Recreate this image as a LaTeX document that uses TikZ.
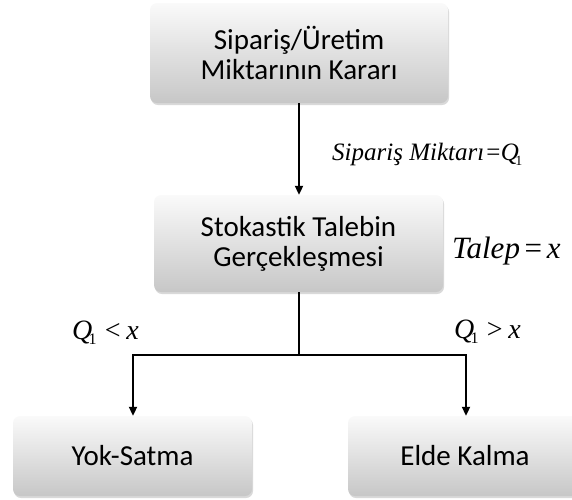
\documentclass[tikz,border=0pt]{standalone}
\usepackage{fontspec}
\setmainfont{Carlito}
\newfontfamily\tms{Liberation Serif}
\usetikzlibrary{arrows.meta,shadows}
\newcommand{\subone}[1]{\kern-0.14em\raisebox{-0.2em}{\upshape\fontsize{#1}{#1}\selectfont 1}}
\begin{document}
\begin{tikzpicture}[x=1pt,y=-1pt,
  boxstyle/.style={rounded corners=7pt, top color=black!2, bottom color=black!22,
    draw=none, align=center, inner sep=0pt,
    drop shadow={opacity=0.3, shadow xshift=1pt, shadow yshift=-2pt},
    font=\fontsize{29}{30}\selectfont},
  conn/.style={line width=2pt, -{Triangle[length=9pt,width=8pt]}},
  plain/.style={line width=2.4pt},
  lbl/.style={inner sep=0pt, anchor=base west, font=\tms}
]
\useasboundingbox (0,0) rectangle (572,499);
\node[boxstyle, minimum width=298pt, minimum height=100pt] (top) at (299,53) {Sipariş/Üretim\\Miktarının Kararı};
\node[boxstyle, minimum width=289pt, minimum height=97pt] (mid) at (298.5,243.5) {Stokastik Talebin\\Gerçekleşmesi};
\node[boxstyle, minimum width=239pt, minimum height=80pt] (yok) at (132.5,456) {Yok-Satma};
\node[boxstyle, minimum width=234pt, minimum height=80pt] (elde) at (465,456) {Elde Kalma};

\coordinate (j) at (299,355);
\coordinate (jl) at (133,355);
\coordinate (jr) at (466,355);

\draw[conn] (top.south -| j) -- (mid.north -| j);
\draw[plain] (mid.south -| j) -- (j);
\draw[line width=2pt] ([xshift=-1pt]jl) -- ([xshift=1pt]jr);
\draw[conn] (jl) -- (jl |- yok.north);
\draw[conn] (jr) -- (jr |- elde.north);

\node[lbl, font=\tms\fontsize{25}{27}\selectfont] (lq) at (332,160) {\itshape Sipariş Miktarı\kern0.08em\upshape=\kern0.02em\itshape Q\subone{14}};
\node[lbl, font=\tms\fontsize{31}{33}\selectfont] (lt) at (452,258) {\itshape Talep\kern0.15em\upshape=\kern0.15em\itshape x};
\node[lbl, font=\tms\fontsize{28}{30}\selectfont] (ll) at (72,339) {\itshape Q\subone{16}\kern0.3em\upshape<\kern0.2em\itshape x};
\node[lbl, font=\tms\fontsize{28}{30}\selectfont] (lr) at (454,338) {\itshape Q\subone{16}\kern0.3em\upshape>\kern0.2em\itshape x};
\end{tikzpicture}
\end{document}
